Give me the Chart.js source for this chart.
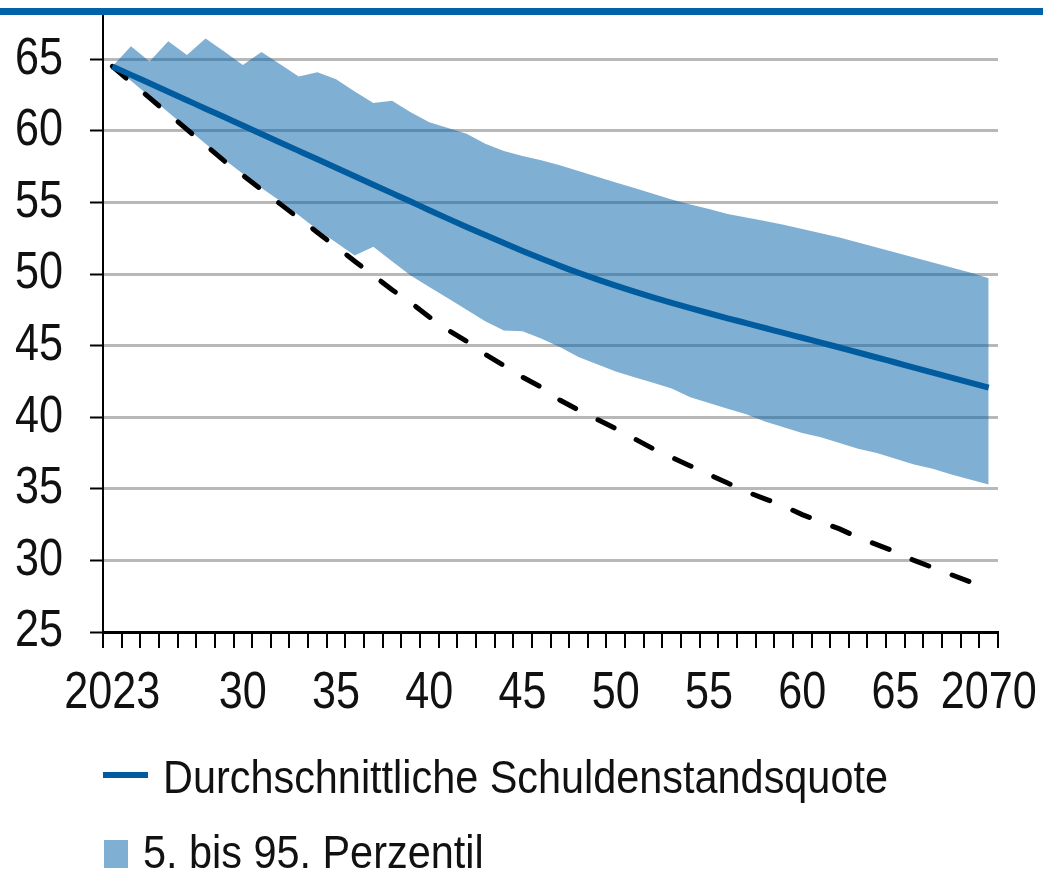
<!DOCTYPE html>
<html>
<head>
<meta charset="utf-8">
<script src="https://cdn.jsdelivr.net/npm/chart.js@4.4.0/dist/chart.umd.min.js"></script>
<style>
  html, body { margin: 0; padding: 0; background: #fff; }
  #wrap { position: relative; width: 1043px; height: 875px; overflow: hidden; }
  #topRule { position: absolute; left: 0; top: 8px; width: 1043px; height: 7px; background: #0062a8; z-index: 2; }
  #myChart { position: absolute; left: 0; top: 0; }
  .leg { position: absolute; font-family: 'Liberation Sans', Arial, sans-serif;
         font-size: 46px; line-height: 46px; color: #111; white-space: nowrap;
         transform: scaleX(0.9); transform-origin: 0 0; }
  .sym { position: absolute; }
</style>
</head>
<body>
<div id="wrap">
  <canvas id="myChart" width="1043" height="875"></canvas>
  <div id="topRule"></div>
  <div class="sym" style="left:103px; top:772px; width:45px; height:6px; background:#005b9f;"></div>
  <div class="leg" id="leg1" style="left:163px; top:754px;">Durchschnittliche Schuldenstandsquote</div>
  <div class="sym" style="left:104px; top:840px; width:24px; height:28px; background:rgba(0,95,165,0.5);"></div>
  <div class="leg" id="leg2" style="left:143px; top:829px;">5. bis 95. Perzentil</div>
</div>
<script>
const years = [2023, 2024, 2025, 2026, 2027, 2028, 2029, 2030, 2031, 2032,
               2033, 2034, 2035, 2036, 2037, 2038, 2039, 2040, 2041, 2042,
               2043, 2044, 2045, 2046, 2047, 2048, 2049, 2050, 2051, 2052,
               2053, 2054, 2055, 2056, 2057, 2058, 2059, 2060, 2061, 2062,
               2063, 2064, 2065, 2066, 2067, 2068, 2069, 2070]

// only these years get a label on the x axis
const tickYears = [2023, 2030, 2035, 2040, 2045, 2050, 2055, 2060, 2065, 2070]
const tickLabels = ['2023', '30', '35', '40', '45', '50', '55', '60', '65', '2070']
const yTicks = [25, 30, 35, 40, 45, 50, 55, 60, 65]

const meanRatio = [64.5, 63.91, 63.32, 62.73, 62.14, 61.55, 60.96, 60.37, 59.78, 59.19,
                   58.6, 58.01, 57.42, 56.83, 56.24, 55.65, 55.06, 54.46, 53.87, 53.29,
                   52.72, 52.16, 51.61, 51.08, 50.57, 50.09, 49.63, 49.19, 48.77, 48.37,
                   47.99, 47.62, 47.26, 46.91, 46.57, 46.23, 45.89, 45.55, 45.21, 44.87,
                   44.52, 44.17, 43.82, 43.47, 43.12, 42.77, 42.42, 42.07]

const upperPct = [64.5, 65.9, 64.85, 66.25, 65.3, 66.45, 65.55, 64.6, 65.5, 64.65,
                  63.8, 64.1, 63.6, 62.75, 61.95, 62.1, 61.3, 60.6, 60.2, 59.8,
                  59.1, 58.6, 58.25, 57.95, 57.6, 57.2, 56.8, 56.4, 56.0, 55.6,
                  55.2, 54.85, 54.55, 54.2, 53.95, 53.7, 53.45, 53.15, 52.85, 52.55,
                  52.2, 51.85, 51.5, 51.15, 50.8, 50.45, 50.1, 49.7]

const lowerPct = [64.5, 63.5, 62.4, 61.3, 60.2, 59.1, 58.0, 57.0, 56.0, 55.1,
                  54.1, 53.1, 52.2, 51.3, 51.9, 50.9, 49.9, 49.1, 48.3, 47.5,
                  46.7, 46.05, 46.0, 45.5, 44.9, 44.2, 43.7, 43.2, 42.8, 42.4,
                  42.0, 41.4, 41.0, 40.6, 40.2, 39.7, 39.3, 38.9, 38.6, 38.2,
                  37.8, 37.5, 37.1, 36.7, 36.4, 36.0, 35.65, 35.3]

// dashed black path (no legend entry)
const dashedPath = [64.5, 63.4, 62.3, 61.2, 60.1, 59.0, 57.9, 56.9, 55.9, 54.9,
                    53.9, 52.9, 51.9, 50.9, 49.9, 48.9, 48.0, 47.0, 46.1, 45.3,
                    44.4, 43.6, 42.8, 42.1, 41.2, 40.5, 39.85, 39.2, 38.5, 37.8,
                    37.2, 36.6, 36.0, 35.4, 34.8, 34.3, 33.8, 33.2, 32.7, 32.2,
                    31.6, 31.1, 30.6, 30.0, 29.5, 29.0, 28.5, 28.0]

Chart.defaults.font.family = "'Liberation Sans', Arial, sans-serif"
Chart.defaults.color = '#111'

const ctx = document.getElementById('myChart').getContext('2d')

// the original uses a narrow typeface: squeeze canvas text horizontally around its anchor
const SQUEEZE = 0.83
const baseFillText = ctx.fillText
ctx.fillText = function(text, x, y, maxWidth) {
    this.save()
    this.translate(x, y)
    this.scale(SQUEEZE, 1)
    baseFillText.call(this, text, 0, 0, maxWidth)
    this.restore()
}

const myChart = new Chart(ctx, {
    type: 'line',
    data: {
        labels: years,
        datasets: [{
            label: 'Durchschnittliche Schuldenstandsquote',
            data: meanRatio,
            borderColor: '#005b9f',
            borderWidth: 6,
            pointRadius: 0,
            cubicInterpolationMode: 'monotone',
            fill: false,
            order: 0
        }, {
            label: 'dashed',
            data: dashedPath,
            borderColor: '#000',
            borderWidth: 5,
            borderDash: [18, 25],
            borderCapStyle: 'round',
            pointRadius: 0,
            fill: false,
            order: 1
        }, {
            label: '5. bis 95. Perzentil',
            data: upperPct,
            borderWidth: 0,
            borderColor: 'rgba(0,0,0,0)',
            backgroundColor: 'rgba(0,95,165,0.5)',
            pointRadius: 0,
            fill: '+1',
            order: 2
        }, {
            label: 'lower',
            data: lowerPct,
            borderWidth: 0,
            borderColor: 'rgba(0,0,0,0)',
            pointRadius: 0,
            fill: false,
            order: 3
        }]
    },
    options: {
        responsive: false,
        animation: false,
        layout: { padding: { top: 12, right: 45, left: 0, bottom: 0 } },
        plugins: { legend: { display: false }, tooltip: { enabled: false } },
        scales: {
            x: {
                offset: true,
                grid: { offset: true, drawOnChartArea: false, color: '#000', lineWidth: 2, tickLength: 16 },
                border: { color: '#000', width: 2 },
                ticks: {
                    autoSkip: false, maxRotation: 0, minRotation: 0, padding: 14,
                    font: { size: 52 }, color: '#111',
                    callback: function(v, i) {
                        let k = tickYears.indexOf(years[i])
                        return k >= 0 ? tickLabels[k] : ''
                    }
                },
                afterFit: (s) => { s.height = 875 - 632; s.paddingLeft = 0; s.paddingRight = 0 }
            },
            y: {
                min: 25,
                max: 68.3,
                afterBuildTicks: (s) => { s.ticks = yTicks.map((v) => ({ value: v })) },
                grid: {
                    color: (c) => (c.tick && c.tick.value === 25) ? '#000' : '#b8b8b8',
                    lineWidth: 3, tickColor: '#000', tickWidth: 2, tickLength: 13
                },
                border: { color: '#000', width: 2 },
                ticks: { padding: 27, font: { size: 52 }, color: '#111' },
                afterFit: (s) => { s.width = 103; s.paddingTop = 0; s.paddingBottom = 0 }
            }
        }
    }
})
</script>
</body>
</html>
